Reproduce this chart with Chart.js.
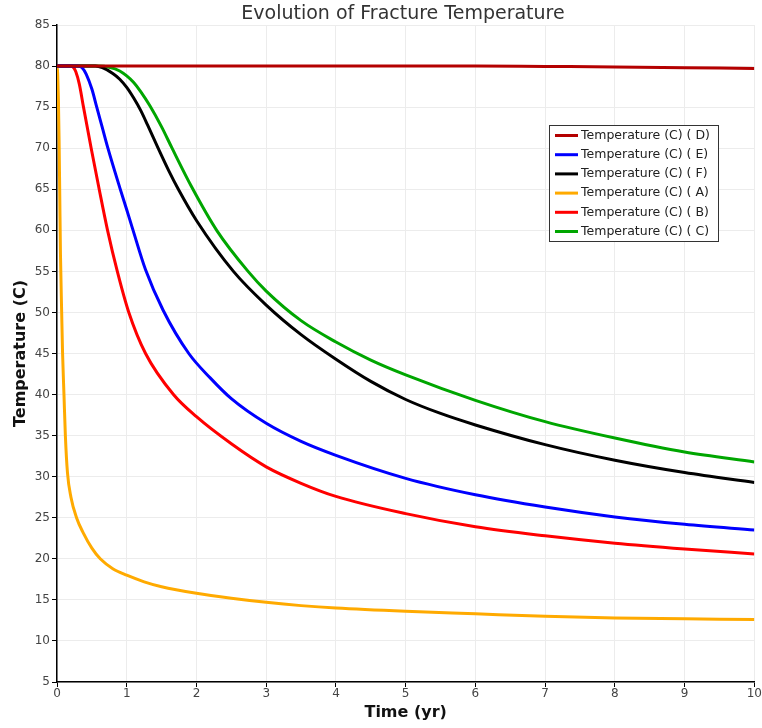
<!DOCTYPE html>
<html>
<head>
<meta charset="utf-8">
<script src="https://cdn.jsdelivr.net/npm/chart.js@4.4.1/dist/chart.umd.min.js"></script>
<style>
  html, body { margin: 0; padding: 0; background: #fff; }
  #wrap { width: 762px; height: 728px; }
</style>
</head>
<body>
<div id="wrap"><canvas id="myChart" width="762" height="728"></canvas></div>
<script>
// Данные: время (лет) и температура (C)
const tD = [0, 2, 4, 6, 7, 8, 9, 10];
const vD = [80, 80, 80, 80, 79.95, 79.9, 79.8, 79.7];

const tE = [0, 0.3, 0.36, 0.42, 0.5, 0.57, 0.65, 0.73, 0.9, 1.0, 1.08, 1.27, 1.52, 1.89, 2.2, 2.5, 3, 3.5, 4, 5, 6, 7, 8, 9, 10];
const vE = [80, 80, 79.8, 79.0, 77.2, 75, 72.5, 70, 65.2, 62.5, 60.3, 55.2, 50.3, 45, 42.0, 39.5, 36.5, 34.3, 32.6, 29.8, 27.8, 26.3, 25.1, 24.2, 23.5];

const tF = [0, 0.55, 0.65, 0.8, 0.9, 1.0, 1.1, 1.2, 1.3, 1.45, 1.6, 1.74, 2, 2.53, 3, 3.5, 4, 4.5, 5, 5.5, 6, 7, 8, 9, 10];
const vF = [80, 80, 79.8, 79.1, 78.4, 77.4, 76.1, 74.6, 72.8, 70, 67.3, 65, 61.2, 55, 50.9, 47.3, 44.3, 41.6, 39.4, 37.7, 36.3, 33.9, 32, 30.5, 29.3];

const tA = [0, 0.01, 0.02, 0.03, 0.04, 0.05, 0.067, 0.08, 0.1, 0.12, 0.15, 0.2, 0.28, 0.38, 0.5, 0.62, 0.8, 1, 1.25, 1.5, 2, 2.5, 3, 3.5, 4, 5, 6, 7, 8, 9, 10];
const vA = [80, 79, 76, 71, 64, 57, 50, 45, 40, 35, 30.5, 27.5, 25, 23.1, 21.3, 20, 18.8, 18, 17.2, 16.6, 15.8, 15.2, 14.7, 14.3, 14.0, 13.6, 13.3, 13.0, 12.8, 12.7, 12.6];

const tB = [0, 0.2, 0.23, 0.27, 0.32, 0.38, 0.49, 0.605, 0.725, 0.865, 1.03, 1.27, 1.67, 2, 2.5, 3, 3.5, 4, 5, 6, 7, 8, 9, 10];
const vB = [80, 80, 79.9, 79.3, 77.8, 75, 70, 65, 60, 55, 50, 45, 40, 37.3, 34.0, 31.2, 29.2, 27.6, 25.5, 23.9, 22.8, 21.9, 21.2, 20.6];

const tC = [0, 0.6, 0.75, 0.9, 1.0, 1.1, 1.2, 1.33, 1.5, 1.65, 1.93, 2.29, 2.74, 3, 3.5, 4, 4.5, 5, 6, 7, 8, 9, 10];
const vC = [80, 80, 79.85, 79.4, 78.8, 78.0, 76.9, 75.2, 72.6, 70, 65.3, 60, 55, 52.6, 49.0, 46.4, 44.2, 42.4, 39.3, 36.7, 34.7, 33.0, 31.8];

const seriesNames = ['Temperature (C) ( D)', 'Temperature (C) ( E)', 'Temperature (C) ( F)',
                     'Temperature (C) ( A)', 'Temperature (C) ( B)', 'Temperature (C) ( C)'];
const seriesColors = ['#b40000', '#0000ff', '#000000', '#ffaa00', '#ff0000', '#00a600'];

const xTicks = [0, 1, 2, 3, 4, 5, 6, 7, 8, 9, 10];
const yTicks = [5, 10, 15, 20, 25, 30, 35, 40, 45, 50, 55, 60, 65, 70, 75, 80, 85];

const FONT = "'DejaVu Sans', sans-serif";

function toPoints(xs, ys) {
    return xs.map((x, i) => ({ x: x, y: ys[i] }));
}

const allSeries = [[tD, vD], [tE, vE], [tF, vF], [tA, vA], [tB, vB], [tC, vC]];

// Заголовок сверху
const titlePlugin = {
    id: 'titlePlugin',
    afterDraw(chart) {
        const { ctx } = chart;
        ctx.save();
        ctx.font = '19px ' + FONT;
        ctx.fillStyle = '#333';
        ctx.textAlign = 'center';
        ctx.textBaseline = 'middle';
        ctx.fillText('Evolution of Fracture Temperature', 403, 14);
        ctx.restore();
    }
};

// Легенда в рамке внутри графика
const boxLegend = {
    id: 'boxLegend',
    afterDraw(chart) {
        const { ctx } = chart;
        const x0 = 549, y0 = 125, w = 169, h = 116, row = 19.2;
        ctx.save();
        ctx.fillStyle = '#fff';
        ctx.fillRect(x0, y0, w, h);
        ctx.strokeStyle = '#333';
        ctx.lineWidth = 1;
        ctx.strokeRect(x0 + 0.5, y0 + 0.5, w, h);
        ctx.font = '12.5px ' + FONT;
        ctx.textBaseline = 'middle';
        ctx.textAlign = 'left';
        chart.data.datasets.forEach((ds, i) => {
            const y = y0 + 10.5 + i * row;
            ctx.strokeStyle = ds.borderColor;
            ctx.lineWidth = 3;
            ctx.beginPath();
            ctx.moveTo(x0 + 6, y);
            ctx.lineTo(x0 + 29, y);
            ctx.stroke();
            ctx.fillStyle = '#222';
            ctx.fillText(ds.label, x0 + 32, y);
        });
        ctx.restore();
    }
};

const ctx = document.getElementById('myChart').getContext('2d');
new Chart(ctx, {
    type: 'line',
    data: {
        datasets: allSeries.map((s, i) => ({
            label: seriesNames[i],
            data: toPoints(s[0], s[1]),
            borderColor: seriesColors[i],
            backgroundColor: seriesColors[i],
            borderWidth: 3,
            pointRadius: 0,
            cubicInterpolationMode: 'monotone',
            fill: false
        }))
    },
    options: {
        responsive: false,
        animation: false,
        layout: { padding: { top: 25, right: 7, left: 0, bottom: 0 } },
        plugins: {
            legend: { display: false },
            title: { display: false },
            tooltip: { enabled: false }
        },
        scales: {
            x: {
                type: 'linear',
                min: 0, max: 10,
                afterFit(s) { s.height = 46; },
                afterBuildTicks(s) { s.ticks = xTicks.map(v => ({ value: v })); },
                grid: { color: '#ececec', tickColor: '#000', tickLength: 5, drawOnChartArea: true },
                border: { color: '#000', width: 1.5 },
                ticks: { color: '#444', font: { family: FONT, size: 12 }, padding: 0, maxRotation: 0 },
                title: { display: true, text: 'Time (yr)', color: '#111', padding: { top: 0, bottom: 6 },
                         font: { family: FONT, size: 16, weight: 'bold' } }
            },
            y: {
                min: 5, max: 85,
                afterFit(s) { s.width = 57; },
                afterBuildTicks(s) { s.ticks = yTicks.map(v => ({ value: v })); },
                grid: { color: '#ececec', tickColor: '#000', tickLength: 5 },
                border: { color: '#000', width: 1.5 },
                ticks: { color: '#444', font: { family: FONT, size: 12 }, padding: 2 },
                title: { display: true, text: 'Temperature (C)', color: '#111', padding: { top: 11, bottom: 0 },
                         font: { family: FONT, size: 16, weight: 'bold' } }
            }
        }
    },
    plugins: [titlePlugin, boxLegend]
});
</script>
</body>
</html>
